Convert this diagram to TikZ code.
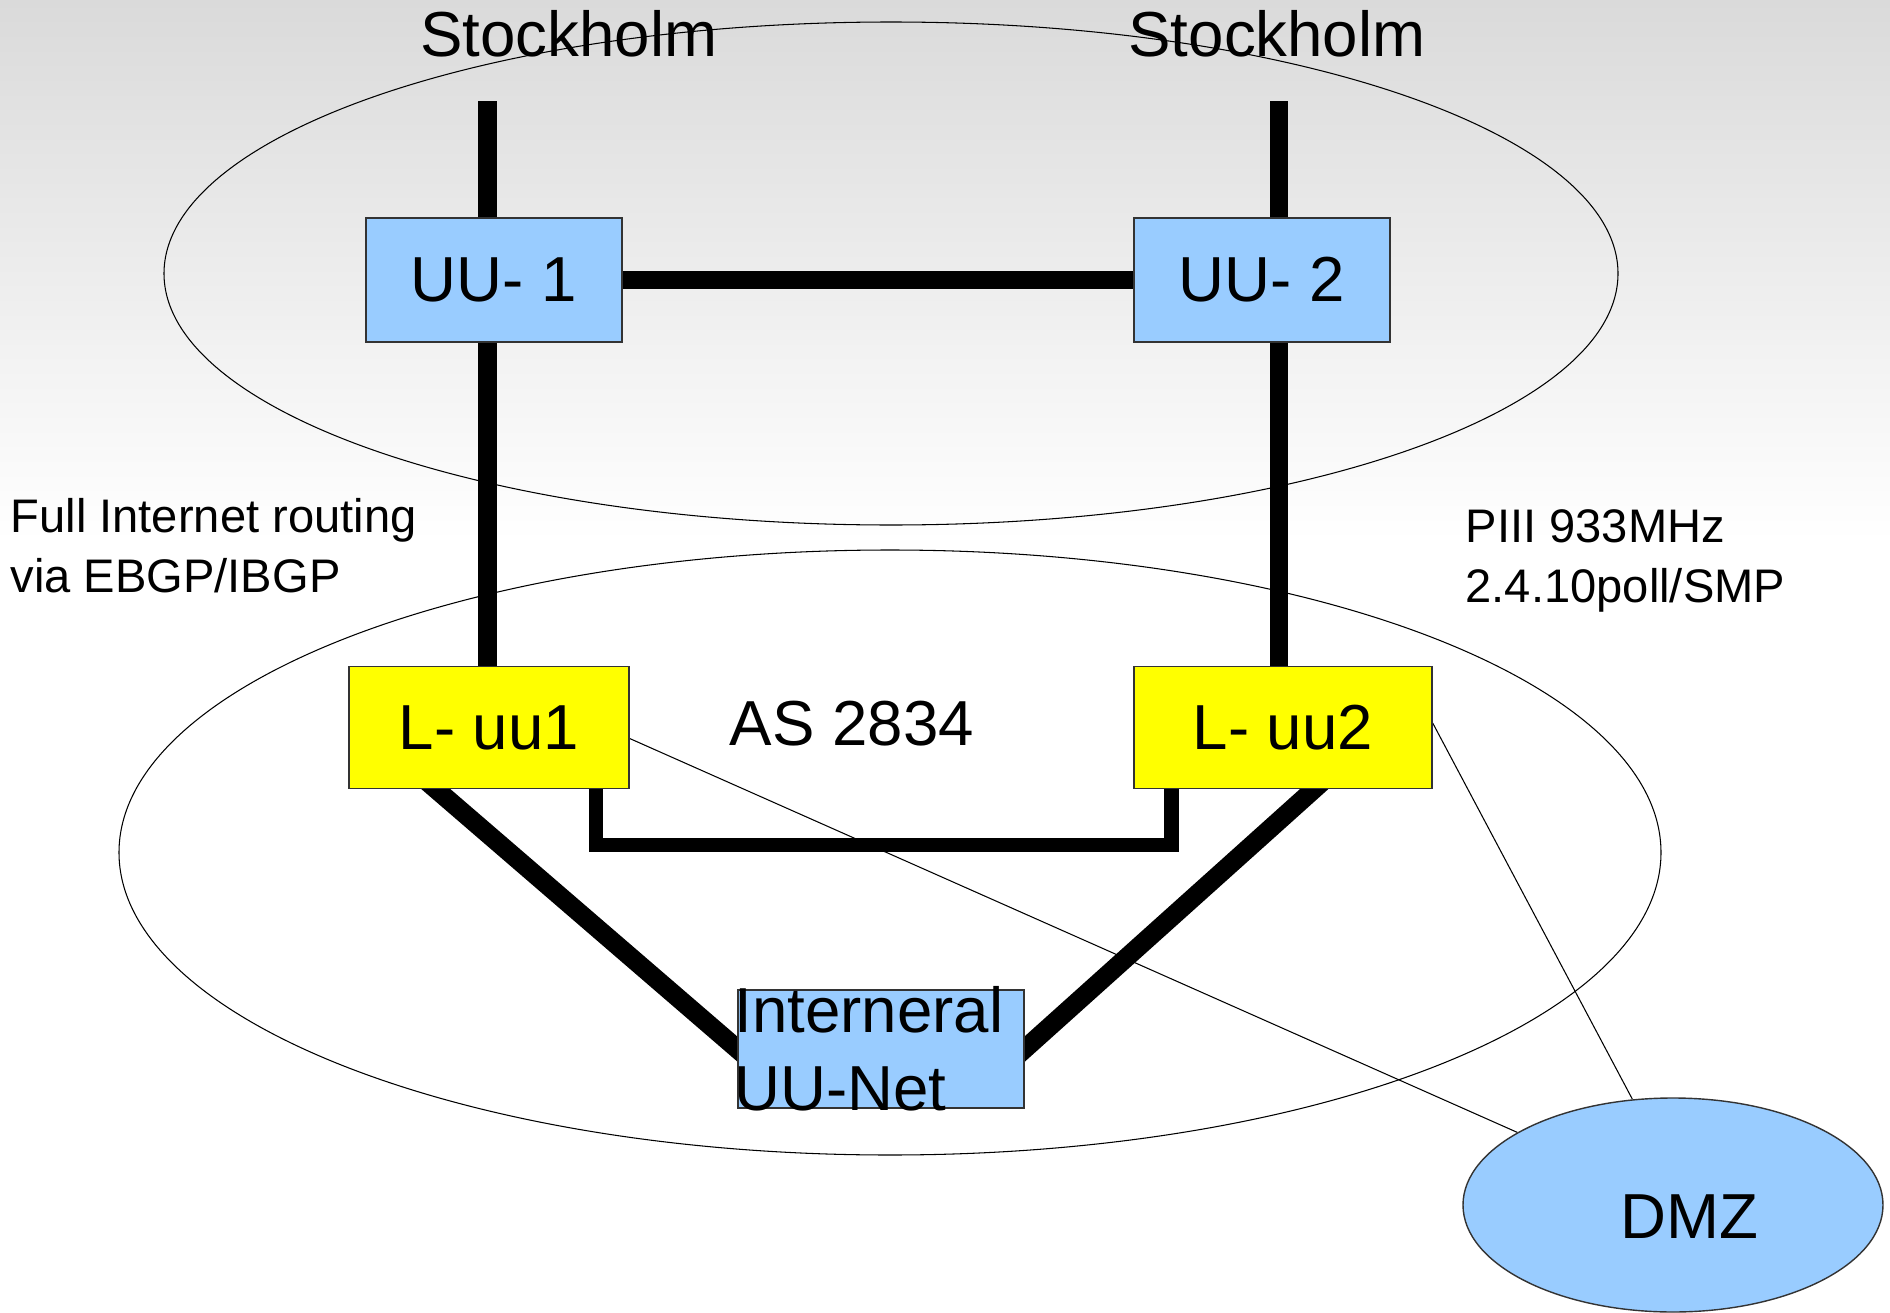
\documentclass[tikz,border=0pt]{standalone}
\usepackage{fontspec}
\setmainfont{Liberation Sans}
\usetikzlibrary{shapes.geometric}
\definecolor{routerblue}{HTML}{99CCFF}
\definecolor{linuxyellow}{RGB}{255,255,0}
\definecolor{slidegray}{RGB}{218,218,218}
\pgfdeclarelayer{paper}
\pgfdeclarelayer{wires}
\pgfsetlayers{paper,wires,main}
\begin{document}
\begin{tikzpicture}[
    router/.style={draw=black!80, line width=0.4pt, fill=routerblue, inner sep=0pt,
      minimum width=2.56cm, minimum height=1.24cm, font=\fontsize{18.1}{22}\selectfont},
    linux/.style={router, fill=linuxyellow, minimum height=1.22cm},
    big/.style={inner sep=0pt, font=\fontsize{18.1}{22.2}\selectfont},
    small/.style={inner sep=0pt, align=left, font=\fontsize{13.4}{16.9}\selectfont}]
  \useasboundingbox (0,0) rectangle (18.9,13.12);
  \begin{pgfonlayer}{paper}
    \fill[white] (0,0) rectangle (18.9,13.12);
    \shade[top color=slidegray, bottom color=white] (0,7.7) rectangle (18.9,13.12);
    \draw[line width=0.3pt] (8.91,10.385) ellipse (7.27 and 2.515);
    \draw[line width=0.3pt] (8.90,4.595) ellipse (7.71 and 3.025);
  \end{pgfonlayer}
  \draw
    (4.94,10.32) node[router] (uu1) {UU- 1}
    (12.62,10.32) node[router] (uu2) {UU- 2}
    (4.89,5.845) node[linux, minimum width=2.80cm] (luu1) {L- uu1}
    (12.83,5.845) node[linux, minimum width=2.98cm] (luu2) {L- uu2}
    (8.81,2.63) node[router, minimum width=2.86cm, minimum height=1.18cm,
      label={[big, align=left, xshift=-0.12cm]center:{Interneral\\UU-Net}}] (inter) {}
    (16.73,1.07) node[router, ellipse, minimum width=4.2cm, minimum height=2.14cm,
      label={[big, xshift=0.165cm, yshift=-0.115cm]center:DMZ}] (dmz) {};
  \node[big, anchor=base] (sthlm1txt) at (5.69,12.55) {Stockholm};
  \node[big, anchor=base] (sthlm2txt) at (12.77,12.55) {Stockholm};
  \node[big, anchor=base] (as) at (8.52,5.67) {AS 2834};
  \node[small, anchor=base west] (bgp) at (0.10,7.20) {Full Internet routing\\via EBGP/IBGP};
  \node[small, anchor=base west] (cpu) at (14.65,7.10) {PIII 933MHz\\2.4.10poll/SMP};
  \coordinate (sthlm1) at (4.875,12.11);
  \coordinate (sthlm2) at (12.79,12.11);
  \coordinate (bl) at (5.96,4.67);
  \coordinate (br) at (11.715,4.67);
  \begin{pgfonlayer}{wires}
    % links to the DMZ
    \begin{scope}[line width=0.3pt]
      \draw ([yshift=-0.11cm]luu1.east) to (dmz.155);
      \draw ([yshift=0.045cm]luu2.east) to (dmz.111);
    \end{scope}
    \begin{scope}[line width=5.4pt]
      \draw (sthlm1) to (sthlm1 |- luu1);
      \draw (sthlm2) to (sthlm2 |- luu2);
      \draw (uu1) to (uu2);
      \draw[shorten <=-4pt, shorten >=-4pt] ([xshift=-0.53cm]luu1.south) to (inter.west);
      \draw[shorten <=-4pt, shorten >=-4pt] ([xshift=0.31cm]luu2.south) to (inter.east);
    \end{scope}
    \draw[line width=4pt] (bl |- luu1) -- (bl) -- (br) -- (br |- luu2);
  \end{pgfonlayer}
\end{tikzpicture}
\end{document}
